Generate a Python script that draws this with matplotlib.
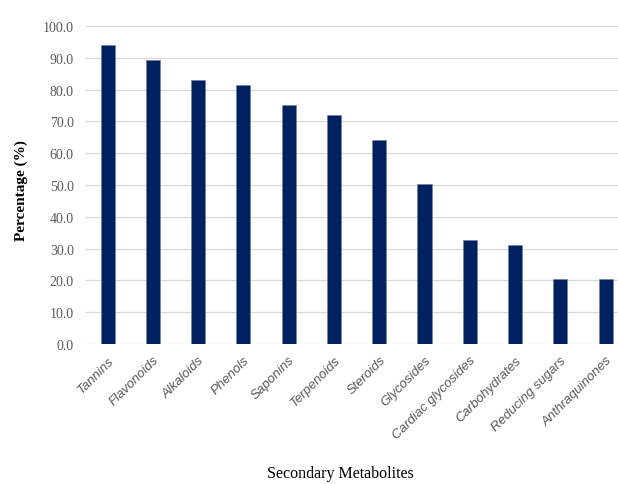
import numpy as np
import matplotlib
matplotlib.use('Agg')
import matplotlib.pyplot as plt

categories = ['Tannins', 'Flavonoids', 'Alkaloids', 'Phenols', 'Saponins', 'Terpenoids',
              'Steroids', 'Glycosides', 'Cardiac glycosides', 'Carbohydrates',
              'Reducing sugars', 'Anthraquinones']
values = [94.0, 89.3, 83.0, 81.4, 75.2, 72.0, 64.2, 50.3, 32.7, 31.1, 20.4, 20.4]
yticks = np.arange(0, 101, 10)

fig = plt.figure(figsize=(6.18, 4.85), dpi=100)
ax = fig.add_axes([0.1375, 0.2887, 0.879, 0.6556])

x = np.arange(len(categories))
ax.bar(x, values, width=0.31, color='#002060', edgecolor='#6f7fa8', linewidth=0.4, zorder=3)

ax.set_xlim(-0.5, len(categories) - 0.5)
ax.set_ylim(0, 100)
ax.set_yticks(yticks)
ax.set_yticklabels([f'{v:.1f}' for v in yticks], family='Liberation Serif', fontsize=10, color='#595959')
ax.set_xticks(x)
ax.set_xticklabels(categories, rotation=45, ha='right', rotation_mode='anchor',
                   family='Liberation Sans', style='italic', fontsize=9.5, color='#595959')
ax.tick_params(length=0, pad=8)
ax.tick_params(axis='x', pad=7)
ax.grid(axis='y', color='#d9d9d9', lw=0.9, zorder=0)
for s in ax.spines.values():
    s.set_visible(False)

fig.text(0.034, 0.608, 'Percentage (%)', rotation=90, ha='center', va='center',
         family='Liberation Serif', fontweight='bold', fontsize=11)
fig.text(0.55, 0.022, 'Secondary Metabolites', ha='center', va='center',
         family='Liberation Serif', fontsize=11.5)

plt.savefig('out.png', dpi=100)
